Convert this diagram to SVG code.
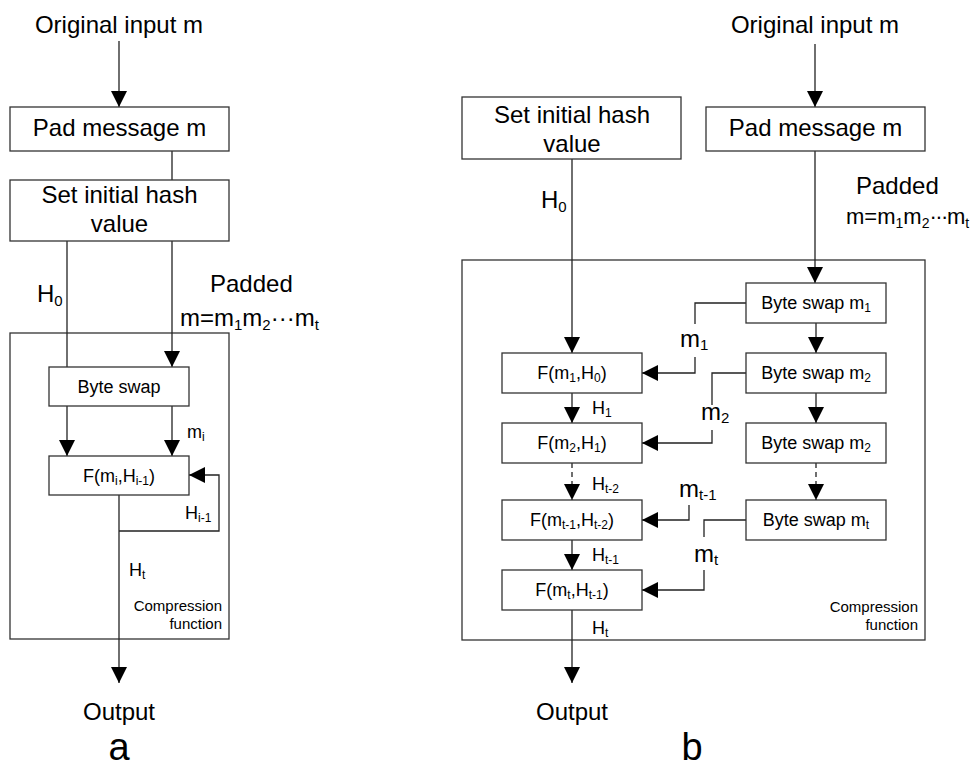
<svg xmlns="http://www.w3.org/2000/svg" width="973" height="768" viewBox="0 0 973 768">
  <style>
    text { font-family: "Liberation Sans", Arial, sans-serif; fill: #000; }
    .big { font-size: 24px; }
    .mid { font-size: 18px; }
    .sm { font-size: 15px; }
    .c { text-anchor: middle; }
    .e { text-anchor: end; }
    .box { fill: #fff; stroke: #333; stroke-width: 1.3; }
    .frame { fill: none; stroke: #333; stroke-width: 1.3; }
    .ln { fill: none; stroke: #222; stroke-width: 1.3; }
    .arr { fill: none; stroke: #222; stroke-width: 1.3; marker-end: url(#ah); }
    .dash { stroke-dasharray: 5 4; }
  </style>
  <defs>
    <marker id="ah" markerUnits="userSpaceOnUse" markerWidth="16" markerHeight="16" refX="16" refY="8" orient="auto">
      <path d="M0,0 L16,8 L0,16 Z" fill="#000"/>
    </marker>
  </defs>

  <rect width="973" height="768" fill="#fff"/>

  <!-- ===== Panel a: iterative form ===== -->
  <rect class="frame" x="10" y="333" width="219" height="306"/>

  <g id="a-connectors">
    <line class="arr" x1="119" y1="41" x2="119" y2="107"/>
    <line class="ln" x1="172" y1="151" x2="172" y2="180"/>
    <line class="ln" x1="67" y1="241" x2="67" y2="367"/>
    <line class="arr" x1="172" y1="241" x2="172" y2="367"/>
    <line class="arr" x1="67" y1="406" x2="67" y2="456"/>
    <line class="arr" x1="172" y1="406" x2="172" y2="456"/>
    <path class="arr" d="M119,531 H219 V475 H189"/>
    <line class="arr" x1="119" y1="495" x2="119" y2="683"/>
  </g>

  <text class="big c" x="119" y="33">Original input m</text>

  <g id="a-pad">
    <rect class="box" x="10" y="107" width="219" height="44"/>
    <text class="big c" x="119.5" y="136">Pad message m</text>
  </g>

  <g id="a-init">
    <rect class="box" x="10" y="180" width="219" height="61"/>
    <text class="big c" x="119.5" y="203">Set initial hash</text>
    <text class="big c" x="119.5" y="232">value</text>
  </g>

  <g id="a-byteswap">
    <rect class="box" x="49" y="367" width="140" height="39"/>
    <text class="mid c" x="119" y="393">Byte swap</text>
  </g>

  <g id="a-f">
    <rect class="box" x="49" y="456" width="140" height="39"/>
    <text class="mid c" x="119" y="482">F(m<tspan font-size="12" dy="3">i</tspan><tspan dy="-3">,H</tspan><tspan font-size="12" dy="3">i-1</tspan><tspan dy="-3">)</tspan></text>
  </g>

  <text class="big" x="37" y="302">H<tspan font-size="15" dy="4">0</tspan></text>
  <text class="big" x="210" y="292">Padded</text>
  <text class="big" x="180" y="326">m=m<tspan font-size="15" dy="4">1</tspan><tspan dy="-4">m</tspan><tspan font-size="15" dy="4">2</tspan><tspan dy="-4">···m</tspan><tspan font-size="15" dy="4">t</tspan></text>
  <text x="187" y="438" font-size="18">m<tspan font-size="12" dy="3">i</tspan></text>
  <text x="185" y="519" font-size="18">H<tspan font-size="12" dy="3">i-1</tspan></text>
  <text x="129" y="576" font-size="18">H<tspan font-size="12" dy="3">t</tspan></text>
  <text class="sm e" x="222" y="611">Compression</text>
  <text class="sm e" x="222" y="629">function</text>
  <text class="big c" x="119" y="720">Output</text>
  <text class="c" x="119" y="760" font-size="38">a</text>

  <!-- ===== Panel b: unrolled form ===== -->
  <rect class="frame" x="462" y="260" width="463" height="380"/>

  <g id="b-connectors">
    <line class="arr" x1="815" y1="44" x2="815" y2="107"/>
    <line class="arr" x1="815" y1="151" x2="815" y2="283"/>
    <line class="arr" x1="572" y1="159" x2="572" y2="353"/>
    <!-- byte swap chain -->
    <line class="arr" x1="816" y1="323" x2="816" y2="353"/>
    <line class="arr" x1="816" y1="393" x2="816" y2="423"/>
    <line class="arr dash" x1="816" y1="463" x2="816" y2="500"/>
    <!-- compression chain -->
    <line class="arr" x1="572" y1="393" x2="572" y2="423"/>
    <line class="arr dash" x1="572" y1="463" x2="572" y2="500"/>
    <line class="arr" x1="572" y1="540" x2="572" y2="570"/>
    <line class="arr" x1="572" y1="610" x2="572" y2="683"/>
    <!-- message blocks into F -->
    <path class="ln" d="M746,303 H695 V324"/>
    <path class="arr" d="M695,357 V373 H642"/>
    <path class="ln" d="M746,373 H712 V405"/>
    <path class="arr" d="M712,430 V443 H642"/>
    <path class="arr" d="M689,505 V520 H642"/>
    <path class="ln" d="M746,520 H704 V537"/>
    <path class="arr" d="M704,570 V590 H642"/>
  </g>

  <text class="big c" x="815" y="33">Original input m</text>

  <g id="b-init">
    <rect class="box" x="462" y="97" width="219" height="62"/>
    <text class="big c" x="572" y="123">Set initial hash</text>
    <text class="big c" x="572" y="152">value</text>
  </g>

  <g id="b-pad">
    <rect class="box" x="706" y="107" width="219" height="44"/>
    <text class="big c" x="815.5" y="136">Pad message m</text>
  </g>

  <g id="b-bs1">
    <rect class="box" x="746" y="283" width="140" height="40"/>
    <text class="mid c" x="816" y="309">Byte swap m<tspan font-size="12" dy="3">1</tspan></text>
  </g>
  <g id="b-bs2">
    <rect class="box" x="746" y="353" width="140" height="40"/>
    <text class="mid c" x="816" y="379">Byte swap m<tspan font-size="12" dy="3">2</tspan></text>
  </g>
  <g id="b-bs3">
    <rect class="box" x="746" y="423" width="140" height="40"/>
    <text class="mid c" x="816" y="449">Byte swap m<tspan font-size="12" dy="3">2</tspan></text>
  </g>
  <g id="b-bst">
    <rect class="box" x="746" y="500" width="140" height="40"/>
    <text class="mid c" x="816" y="526">Byte swap m<tspan font-size="12" dy="3">t</tspan></text>
  </g>

  <g id="b-f1">
    <rect class="box" x="502" y="353" width="140" height="40"/>
    <text class="mid c" x="572" y="379">F(m<tspan font-size="12" dy="3">1</tspan><tspan dy="-3">,H</tspan><tspan font-size="12" dy="3">0</tspan><tspan dy="-3">)</tspan></text>
  </g>
  <g id="b-f2">
    <rect class="box" x="502" y="423" width="140" height="40"/>
    <text class="mid c" x="572" y="449">F(m<tspan font-size="12" dy="3">2</tspan><tspan dy="-3">,H</tspan><tspan font-size="12" dy="3">1</tspan><tspan dy="-3">)</tspan></text>
  </g>
  <g id="b-ft1">
    <rect class="box" x="502" y="500" width="140" height="40"/>
    <text class="mid c" x="572" y="526">F(m<tspan font-size="12" dy="3">t-1</tspan><tspan dy="-3">,H</tspan><tspan font-size="12" dy="3">t-2</tspan><tspan dy="-3">)</tspan></text>
  </g>
  <g id="b-ft">
    <rect class="box" x="502" y="570" width="140" height="40"/>
    <text class="mid c" x="572" y="596">F(m<tspan font-size="12" dy="3">t</tspan><tspan dy="-3">,H</tspan><tspan font-size="12" dy="3">t-1</tspan><tspan dy="-3">)</tspan></text>
  </g>

  <text class="big" x="541" y="208">H<tspan font-size="15" dy="4">0</tspan></text>
  <text class="big" x="856" y="194">Padded</text>
  <text x="846" y="224" font-size="22">m=m<tspan font-size="14" dy="4">1</tspan><tspan dy="-4">m</tspan><tspan font-size="14" dy="4">2</tspan><tspan dy="-4" letter-spacing="-1.5">···</tspan><tspan>m</tspan><tspan font-size="14" dy="4">t</tspan></text>

  <text class="big" x="680" y="347">m<tspan font-size="15" dy="3">1</tspan></text>
  <text class="big" x="701" y="420">m<tspan font-size="15" dy="3">2</tspan></text>
  <text class="big" x="679" y="497">m<tspan font-size="15" dy="3">t-1</tspan></text>
  <text class="big" x="694" y="562">m<tspan font-size="15" dy="3">t</tspan></text>

  <text x="592" y="414" font-size="18">H<tspan font-size="12" dy="3">1</tspan></text>
  <text x="592" y="490" font-size="18">H<tspan font-size="12" dy="3">t-2</tspan></text>
  <text x="592" y="561" font-size="18">H<tspan font-size="12" dy="3">t-1</tspan></text>
  <text x="592" y="634" font-size="18">H<tspan font-size="12" dy="3">t</tspan></text>

  <text class="sm e" x="918" y="612">Compression</text>
  <text class="sm e" x="918" y="630">function</text>
  <text class="big c" x="572" y="720">Output</text>
  <text class="c" x="692" y="760" font-size="38">b</text>
</svg>
